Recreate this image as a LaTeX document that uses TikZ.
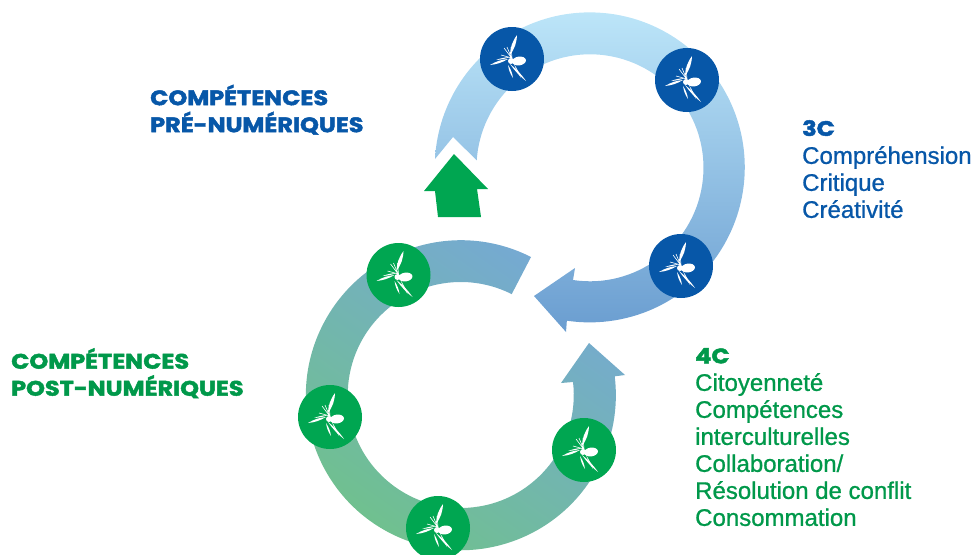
\documentclass[tikz,border=0pt]{standalone}
\usepackage{fontspec}
\setmainfont{Liberation Sans}
\newfontfamily\headfont[FakeBold=2.2,FakeStretch=1.14]{Poppins Bold}
\newfontfamily\bodyfont[FakeBold=0.9]{Liberation Sans}
\definecolor{heroblue}{HTML}{0757A8}
\definecolor{herogreen}{HTML}{00A651}
\definecolor{textgreen}{HTML}{00984A}
\definecolor{ringtop}{HTML}{BDE6F9}
\definecolor{ringbottom}{HTML}{6A9DD0}
\definecolor{ringgreen}{HTML}{6FC28A}
\definecolor{ringsteel}{HTML}{76A8D6}
\newcommand{\lens}[3][12]{\fill[white] (#2) to[bend left=#1] (#3) to[bend left=#1] (#2);}
\tikzset{
  hub/.style={circle,minimum size=64pt,inner sep=0pt,fill=#1},
  headblue/.style={anchor=north west,inner sep=0pt,align=left,text=heroblue,font=\fontsize{21}{27}\selectfont\headfont},
  headgreen/.style={headblue,text=textgreen},
  blockblue/.style={anchor=north west,inner sep=0pt,align=left,text=heroblue,font=\fontsize{24}{27}\selectfont\bodyfont},
  blockgreen/.style={blockblue,text=textgreen},
  insect/.pic={
    \lens[16]{-2,-4}{5,-24}
    \lens[12]{-22,6}{-4,0}
    \lens[8]{-2,5}{14,22}
    \lens[12]{-4,6}{1,19}
    \lens[6]{2,5}{9,19}
    \lens[8]{-16,1}{-2,-2}
    \draw[white,line width=.6pt] (-8,-11)--(1,1) (-5,-12)--(0,0) (-11,-4)--(0,-1) (-1,-12)--(0,-1);
    \fill[white,rotate around={8:(7,2)}] (7,2) ellipse[x radius=7,y radius=4.4];
    \fill[white] (-1,2) circle[radius=3];
  }
}
\begin{document}
\begin{tikzpicture}[x=1pt,y=-1pt]
\useasboundingbox (0,0) rectangle (976,554);
\clip (0,0) rectangle (976,554);
% upper ring
\shade[top color=ringtop,bottom color=ringbottom]
  (435,159) arc[start angle=183.1,end angle=458.5,radius=155]
  -- (566,332) -- (534,296) -- (575,268) -- (573,280)
  arc[start angle=458.6,end angle=183.8,radius=113.5]
  -- (453,137) -- cycle;
% lower ring
\shade[top color=ringsteel,bottom color=ringgreen,shading angle=-35]
  (531,257) arc[start angle=296.9,end angle=-7,radius=155]
  -- (625,375) -- (589,343) -- (561,383) -- (573,382)
  arc[start angle=-6.6,end angle=296.8,radius=113]
  -- cycle;
% green arrow
\fill[herogreen] (454,154) -- (488,189) -- (477,189) -- (481,217) -- (438,217) -- (435,191) -- (424,191) -- cycle;
% hubs
\foreach \n/\x/\y/\c in {a/512/59/heroblue,b/687/80/heroblue,c/681/266/heroblue,d/398.5/275/herogreen,e/330/417/herogreen,f/584/450/herogreen,g/438/528/herogreen}{
  \node[hub=\c] (\n) at (\x,\y) {};
  \pic at (\n) {insect};
}
% texts
\node[headblue] (h1) at (150,84.5) {COMPÉTENCES\\PRÉ-NUMÉRIQUES};
\node[headgreen] (h2) at (11,348) {COMPÉTENCES\\POST-NUMÉRIQUES};
\node[headblue] (t3) at (802,120) {3C};
\node[blockblue] (b3) at (802,146) {Compréhension\\Critique\\Créativité};
\node[headgreen] (t4) at (695,348) {4C};
\node[blockgreen] (b4) at (695,373) {Citoyenneté\\Compétences\\interculturelles\\Collaboration/\\Résolution de conflit\\Consommation};
\end{tikzpicture}
\end{document}
